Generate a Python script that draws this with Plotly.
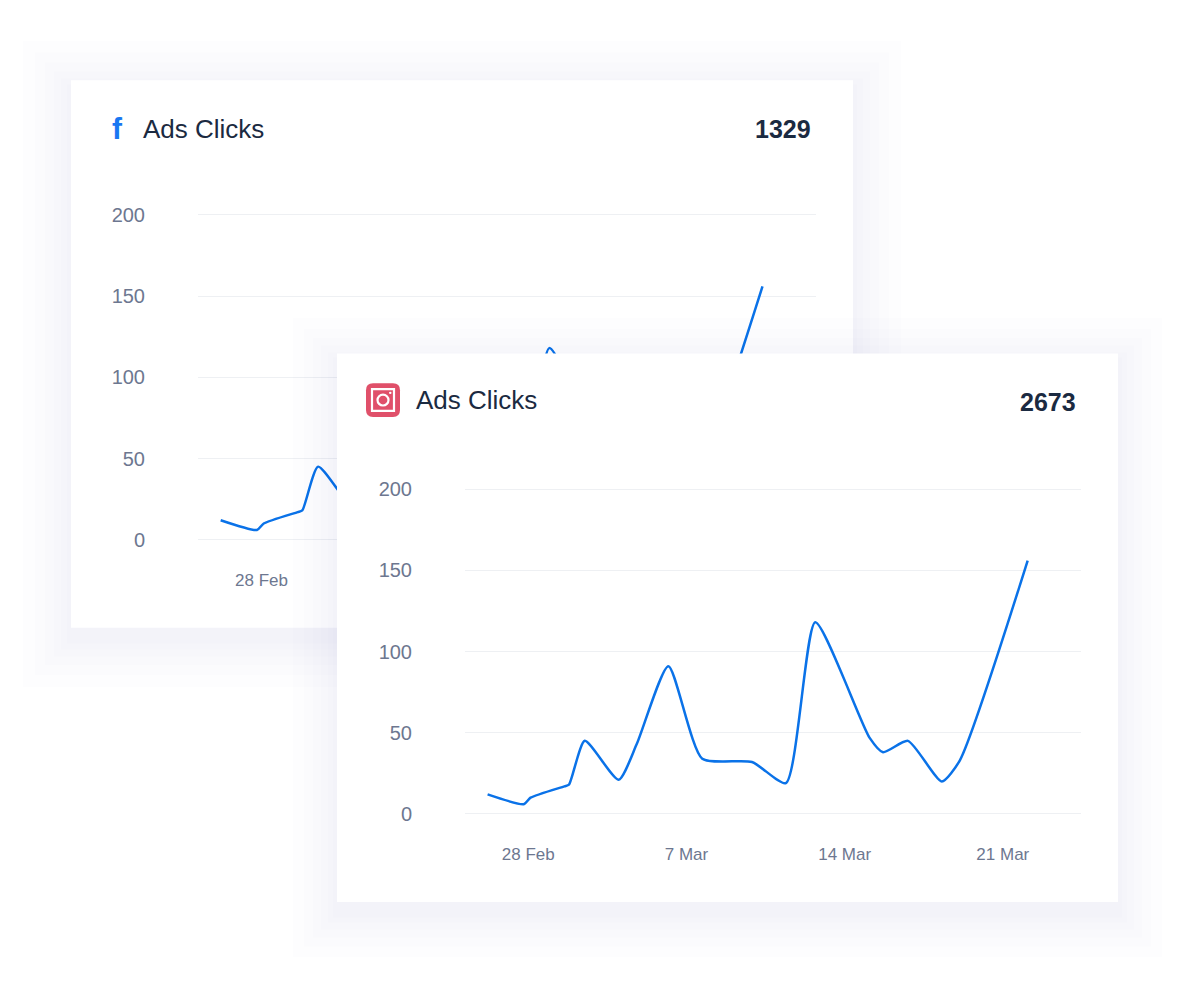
import pandas as pd
import plotly.graph_objects as go

# data: day offsets from 26 Feb and click counts
base_date = pd.Timestamp('2023-02-26')
day_offsets = [0.2, 1.8, 2.1, 3.6, 3.8, 4.5, 6.0, 6.8, 8.2, 9.7, 11.9, 13.4, 14.7,
               17.1, 17.7, 18.8, 20.3, 21.1, 24.1]
clicks = [12, 6, 10, 17, 18, 45, 21, 43, 91, 34, 32, 19, 118, 47, 38, 45, 20, 33, 156]
tick_dates = ['2023-02-28', '2023-03-07', '2023-03-14', '2023-03-21']
tick_labels = ['28 Feb', '7 Mar', '14 Mar', '21 Mar']
y_ticks = [0, 50, 100, 150, 200]
totals = {'facebook': 1329, 'instagram': 2673}

# the page puts the figure 8px in from the corner, so work in window pixels
OFF = 8
W, H = 1200 - OFF, 1000 - OFF
line_color = '#0a72e8'
text_dark = '#1b2a41'
tick_grey = '#6d7790'
grid_grey = '#eef0f3'
font = 'Liberation Sans'
dates = [base_date + pd.Timedelta(days=d) for d in day_offsets]


def px(x):
    return (x - OFF) / W


def py(y):
    return 1 - (y - OFF) / H


fig = go.Figure()

# back (facebook) chart on xy
fig.add_trace(go.Scatter(x=dates, y=clicks, mode='lines', xaxis='x', yaxis='y',
                         line=dict(color=line_color, width=2.5, shape='spline', smoothing=0.6),
                         hoverinfo='skip'))

# overlay card for the front chart (window pixel coords) on x2y2
fl, ft, fr, fb = 337, 353, 1118, 907
for grow in [44, 33, 24, 16, 9, 4]:
    fig.add_trace(go.Scatter(x=[fl - grow, fr + grow, fr + grow, fl - grow, fl - grow],
                             y=[ft - grow + 8, ft - grow + 8, fb + grow + 12, fb + grow + 12, ft - grow + 8],
                             fill='toself', fillcolor='rgba(40,50,90,0.008)', mode='none',
                             xaxis='x2', yaxis='y2', hoverinfo='skip'))
fig.add_trace(go.Scatter(x=[fl, fr, fr, fl, fl], y=[ft, ft, fb, fb, ft], fill='toself',
                         fillcolor='white', mode='none', xaxis='x2', yaxis='y2', hoverinfo='skip'))

# front (instagram) chart on x3y3
fig.add_trace(go.Scatter(x=dates, y=clicks, mode='lines', xaxis='x3', yaxis='y3',
                         line=dict(color=line_color, width=2.5, shape='spline', smoothing=0.6),
                         hoverinfo='skip'))

x_range = [base_date - pd.Timedelta(days=0.8), base_date + pd.Timedelta(days=26.46)]
y_range = [-3, 204.3]
xcommon = dict(range=x_range, showgrid=False, zeroline=False, showline=False, ticks='',
               tickfont=dict(family=font, size=17, color=tick_grey), ticklabelstandoff=23)
ycommon = dict(range=y_range, tickvals=y_ticks, showgrid=True, gridcolor=grid_grey, gridwidth=1,
               zeroline=False, showline=False, ticks='',
               tickfont=dict(family=font, size=20, color=tick_grey), ticklabelstandoff=52)

fig.update_layout(
    width=W, height=H, margin=dict(l=0, r=0, t=0, b=0),
    paper_bgcolor='white', plot_bgcolor='rgba(0,0,0,0)', showlegend=False,
    # only the first date of the back chart is left uncovered by the front card
    xaxis=dict(domain=[px(198), px(816)], anchor='y', tickvals=pd.to_datetime(tick_dates[:1]),
               ticktext=tick_labels[:1], **xcommon),
    yaxis=dict(domain=[py(546), py(206)], anchor='x', **ycommon),
    xaxis2=dict(domain=[0, 1], range=[OFF, OFF + W], visible=False, anchor='y2'),
    yaxis2=dict(domain=[0, 1], range=[OFF + H, OFF], visible=False, anchor='x2'),
    xaxis3=dict(domain=[px(465), px(1081)], anchor='y3', tickvals=pd.to_datetime(tick_dates),
                ticktext=tick_labels, **xcommon),
    yaxis3=dict(domain=[py(823), py(483)], anchor='x3', **ycommon),
)

# back card with soft shadow (paper shapes sit below every subplot)
bl, bt, br, bb = 71, 77, 853, 630
shapes = []
for grow in [48, 36, 26, 17, 10, 4]:
    shapes.append(dict(type='rect', xref='paper', yref='paper', layer='below',
                       x0=px(bl - grow), x1=px(br + grow), y0=py(bt - grow + 8), y1=py(bb + grow + 12),
                       fillcolor='rgba(40,50,90,0.008)', line_width=0))
shapes.append(dict(type='rect', xref='paper', yref='paper', layer='below',
                   x0=px(bl), x1=px(br), y0=py(bt), y1=py(bb), fillcolor='white', line_width=0))

# instagram icon
shapes.append(dict(type='path', xref='paper', yref='paper', layer='above', line_width=0,
                   fillcolor='#e0506a',
                   path='M {a},{b} L {c},{b} Q {d},{b} {d},{e} L {d},{f} Q {d},{g} {c},{g} '
                        'L {a},{g} Q {h},{g} {h},{f} L {h},{e} Q {h},{b} {a},{b} Z'.format(
                            a=px(373), c=px(393), d=px(400), h=px(366),
                            b=py(383), e=py(390), f=py(410), g=py(417))))
shapes.append(dict(type='rect', xref='paper', yref='paper', layer='above',
                   x0=px(372), x1=px(394), y0=py(389), y1=py(411),
                   line=dict(color='white', width=2.2), fillcolor='rgba(0,0,0,0)'))
shapes.append(dict(type='circle', xref='paper', yref='paper', layer='above',
                   x0=px(377.5), x1=px(388.5), y0=py(394.5), y1=py(405.5),
                   line=dict(color='white', width=2.2)))
shapes.append(dict(type='circle', xref='paper', yref='paper', layer='above',
                   x0=px(389), x1=px(391.5), y0=py(391.5), y1=py(394), fillcolor='white', line_width=0))
fig.update_layout(shapes=shapes)

annotations = [
    dict(x=px(117), y=py(126), text='<b>f</b>', font=dict(family=font, size=30, color='#1877f2')),
    dict(x=px(141), y=py(126), text='Ads Clicks', xanchor='left',
         font=dict(family=font, size=26, color=text_dark)),
    dict(x=px(813), y=py(126), text='<b>%d</b>' % totals['facebook'], xanchor='right',
         font=dict(family=font, size=25, color=text_dark)),
    dict(x=px(414), y=py(400), text='Ads Clicks', xanchor='left',
         font=dict(family=font, size=26, color=text_dark)),
    dict(x=px(1078), y=py(402), text='<b>%d</b>' % totals['instagram'], xanchor='right',
         font=dict(family=font, size=25, color=text_dark)),
]
for a in annotations:
    a.setdefault('xanchor', 'center')
    fig.add_annotation(xref='paper', yref='paper', showarrow=False, yanchor='middle', **a)

fig.write_html('out.html')
